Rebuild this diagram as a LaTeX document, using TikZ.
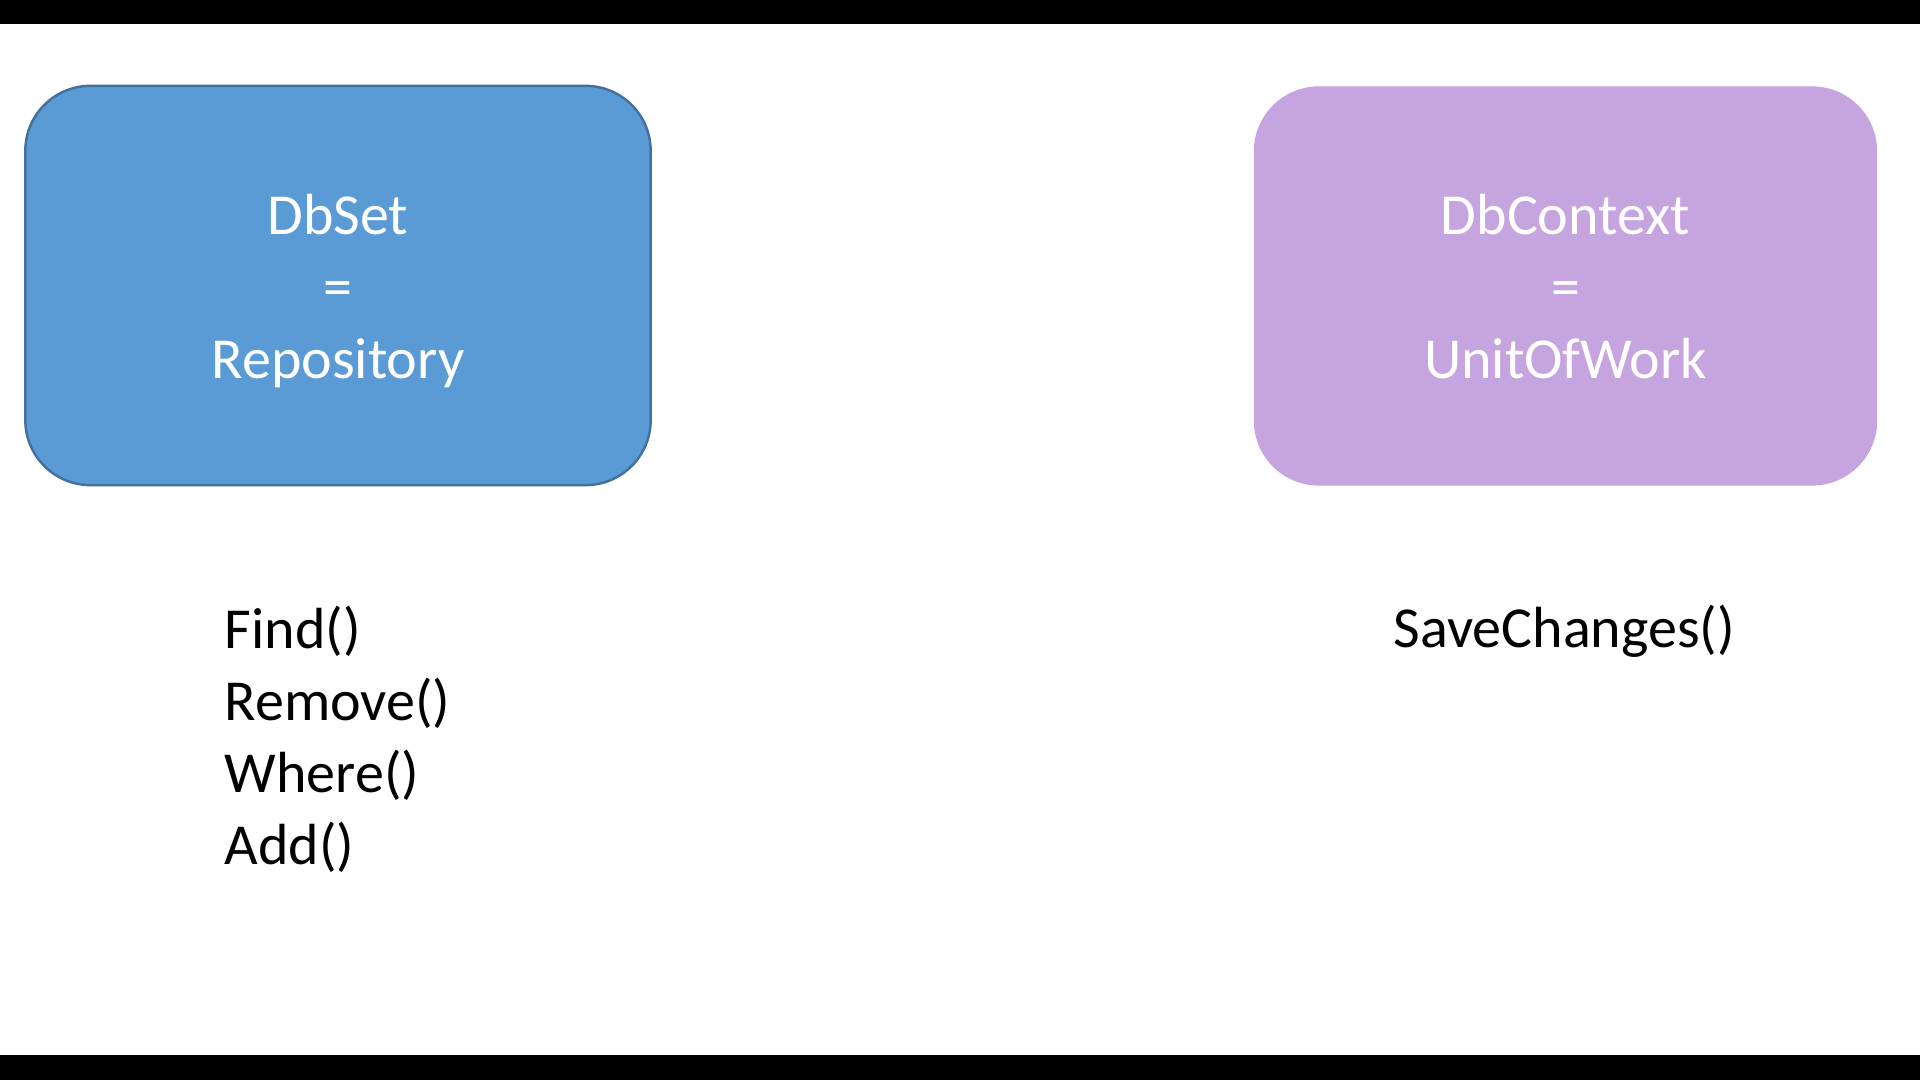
\documentclass[tikz,border=0pt]{standalone}
\usepackage{fontspec}
\setmainfont{Carlito}
\definecolor{bluefill}{HTML}{5B9BD5}
\definecolor{blueline}{HTML}{41719C}
\definecolor{purplefill}{HTML}{C6A4E0}
\begin{document}
\begin{tikzpicture}[x=0.01cm,y=-0.01cm,
  bigbox/.style={rounded corners=0.65cm, minimum height=3.99cm, inner sep=0pt},
  boxtext/.style={anchor=base, text=white, inner sep=0pt, font=\fontsize{16.5}{20.5}\selectfont},
  methodtext/.style={anchor=base west, text=black, inner sep=0pt, font=\fontsize{16.5}{20.5}\selectfont}]
  \useasboundingbox (0,0) rectangle (1920,1080);
  \fill[white] (0,0) rectangle (1920,1080);
  \fill[black] (0,0) rectangle (1920,24);
  \fill[black] (0,1055) rectangle (1920,1080);
  % boxes
  \node[bigbox, minimum width=6.25cm, fill=bluefill, draw=blueline, line width=0.7pt] (repo) at (338,285.5) {};
  \node[bigbox, minimum width=6.23cm, fill=purplefill] (uow) at (1565.5,286) {};
  % box texts
  \node[boxtext] (dbset) at (338,235) {DbSet};
  \node[boxtext] (eqa) at (338,307) {=};
  \node[boxtext] (repository) at (338,379) {Repository};
  \node[boxtext] (dbcontext) at (1565.5,235) {DbContext};
  \node[boxtext] (eqb) at (1565.5,307) {=};
  \node[boxtext] (unitofwork) at (1565.5,379) {UnitOfWork};
  % methods
  \node[methodtext] (find) at (224,649) {Find()};
  \node[methodtext] (remove) at (224,721) {Remove()};
  \node[methodtext] (where) at (224,793) {Where()};
  \node[methodtext] (add) at (224,865) {Add()};
  \node[methodtext] (save) at (1393,648) {SaveChanges()};
\end{tikzpicture}
\end{document}
